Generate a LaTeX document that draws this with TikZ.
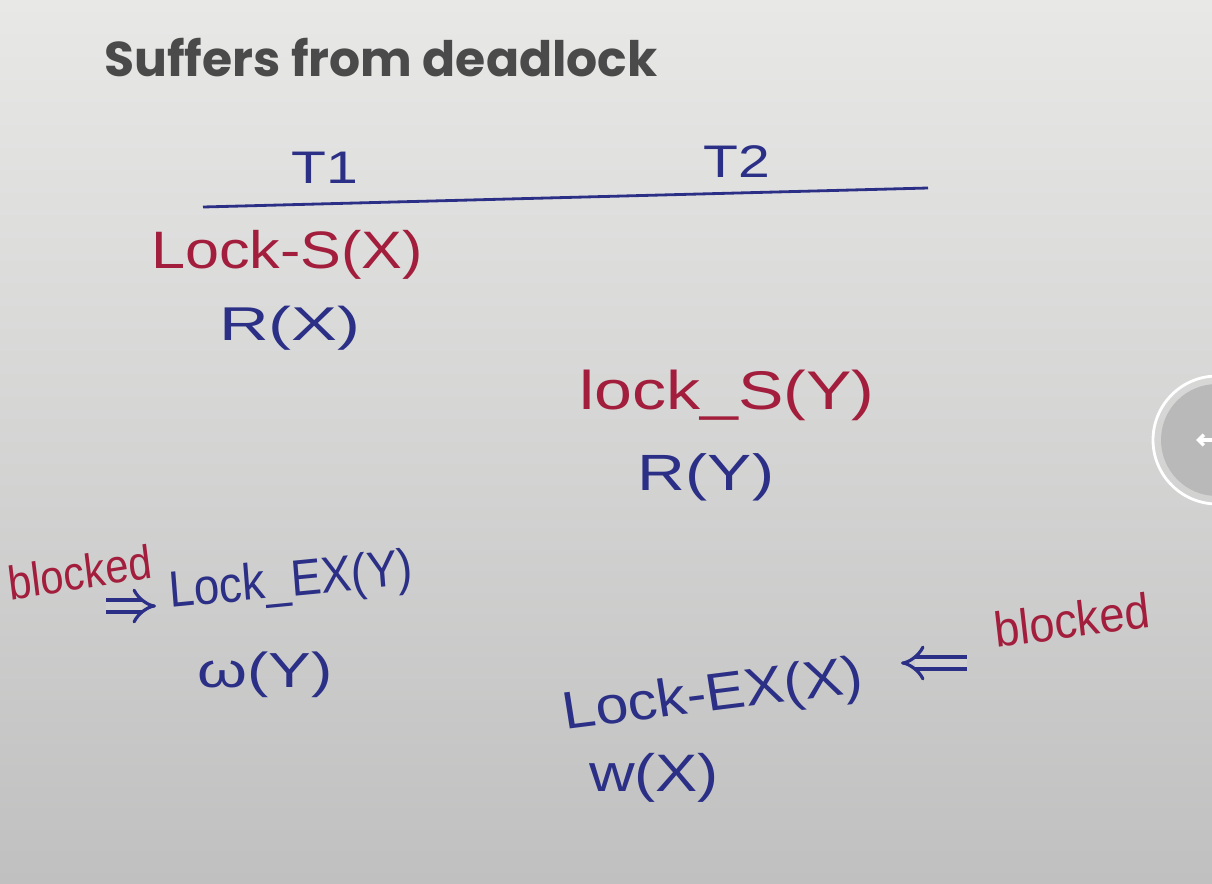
\documentclass[tikz,border=0pt]{standalone}
\usepackage{fontspec}
\usepackage{tikz}
\usetikzlibrary{arrows.meta, positioning}
\setmainfont{Liberation Sans}
\newfontfamily\titlefont{Poppins}
\newfontfamily\handfont{Liberation Sans}

\definecolor{penblue}{HTML}{2B2F86}
\definecolor{penred}{HTML}{A21E3C}
\definecolor{titlegray}{HTML}{4A4A4A}
\definecolor{boardtop}{HTML}{E8E9E7}
\definecolor{boardmid}{HTML}{DCDDDC}
\definecolor{boardbot}{HTML}{C0C0C0}
\definecolor{boardlow}{HTML}{D2D2D2}

\tikzset{
  %% #1 = font size (pt), #2 = horizontal stretch of the pen
  hw/.style 2 args={font=\handfont\fontsize{#1}{#1}\selectfont,
                    inner sep=0pt, xscale=#2, transform shape},
  bluepen/.style={text=penblue},
  redpen/.style={text=penred},
  dblarrow/.style={draw=penblue, line width=1.8pt, double=boardlow,
                   double distance=5pt, -{Implies}},
}

\begin{document}
\begin{tikzpicture}[x=0.02cm, y=-0.02cm]
  %% board
  \shade[top color=boardtop, middle color=boardmid, bottom color=boardbot]
      (0,0) rectangle (1212,883);
  \useasboundingbox (0,0) rectangle (1212,883);

  %% title
  \node[anchor=west, text=titlegray, inner sep=0pt,
        font=\titlefont\bfseries\fontsize{27.8}{30}\selectfont] (title) at (104,58)
      {Suffers from deadlock};

  %% header
  \node[hw={26}{1.25}, bluepen] (t1) at (325,168) {T1};
  \node[hw={26}{1.25}, bluepen] (t2) at (737,162) {T2};
  \coordinate (hl) at (203,207);
  \coordinate (hr) at (928,188);
  \draw[penblue, line width=1.6pt] (hl) -- (hr);

  %% T1 column
  \node[hw={27}{0.88}, redpen, rotate=8] (blk1) at (80,572) {blocked};
  \node[hw={30}{1.16}, redpen] (lsx) at (287,255) {Lock-S(X)};
  \node[hw={27}{1.45}, bluepen] (rx) at (290,328) {R(X)};
  \node[hw={29}{0.9}, bluepen, rotate=5] (lxy) at (291,583) {Lock\_EX(Y)};
  \node[hw={28}{1.3}, bluepen] (wy) at (265,675) {ω(Y)};

  %% T2 column
  \node[hw={31}{1.25}, redpen] (lsy) at (727,395) {lock\_S(Y)};
  \node[hw={29}{1.3}, bluepen] (ry) at (706,477) {R(Y)};
  \node[hw={30}{1.12}, bluepen, rotate=8] (lxx) at (713,697) {Lock-EX(X)};
  \node[hw={28}{0.92}, redpen, rotate=7] (blk2) at (1072,620) {blocked};
  \node[hw={30}{1.2}, bluepen] (wx) at (654,778) {w(X)};

  %% blocked arrows
  \coordinate (a1) at (106,606);
  \coordinate (a1e) at (156,606);
  \draw[dblarrow] (a1) -- (a1e);
  \coordinate (a2) at (967,663);
  \coordinate (a2e) at (901,663);
  \draw[dblarrow] (a2) -- (a2e);

  %% side button
  \draw[white, line width=1.6pt] (1217,440) circle (64);
  \fill[gray!55] (1217,440) circle (56);
  \draw[white, line width=2pt, line cap=round, -{Straight Barb[length=3pt]}]
      (1212,440) -- (1196,440);
\end{tikzpicture}
\end{document}
